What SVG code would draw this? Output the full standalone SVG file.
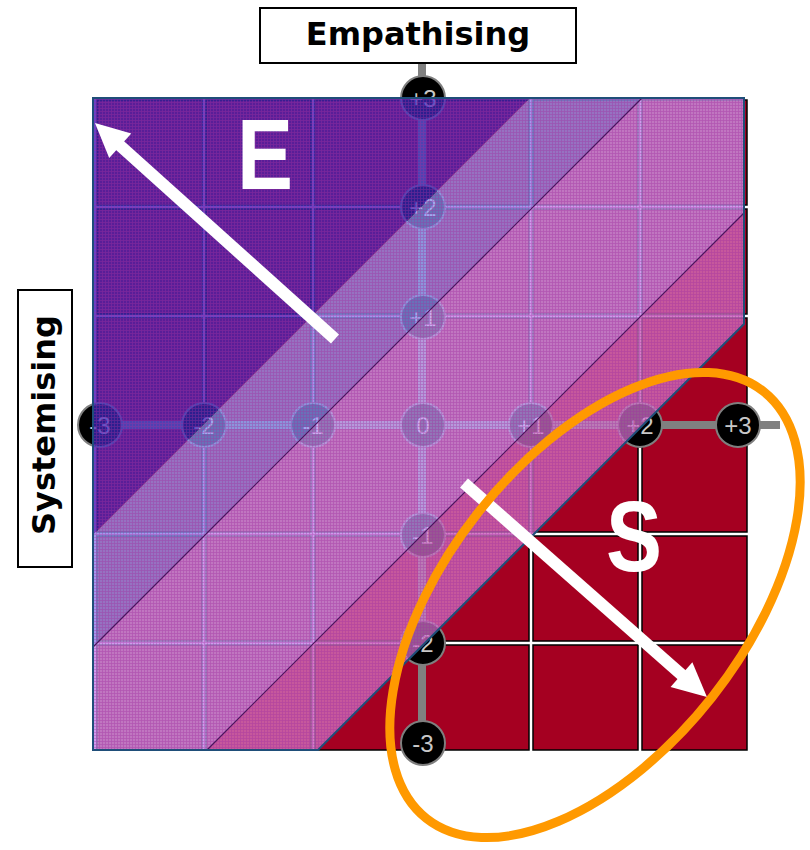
<svg xmlns="http://www.w3.org/2000/svg" width="810" height="850" viewBox="0 0 810 850">
<style>
.cell{fill:#a50021;stroke:#000;stroke-width:1.5}
.axis{stroke:#808080;stroke-width:8;fill:none}
.dot{fill:#000;stroke:#7f7f7f;stroke-width:2}
.dt{font-family:"Liberation Sans",Arial,sans-serif;font-size:24px;fill:#c8c8c8;text-anchor:middle}
.sep{stroke:#4a145f;stroke-width:1.2;fill:none}
.arrow{stroke:#fff;stroke-width:12;fill:none}
.big{font-family:"Liberation Sans",Arial,sans-serif;font-weight:bold;font-size:100px;fill:#fff}
.lbox{fill:#fff;stroke:#000;stroke-width:2}
.ltxt{font-family:"DejaVu Sans",Verdana,sans-serif;font-weight:bold;font-size:32px;fill:#000;text-anchor:middle}
</style>
<defs>
<pattern id="tex" width="3" height="3" patternUnits="userSpaceOnUse">
<path d="M0,0.5H3M0.5,0V3" stroke="#a0309f" stroke-width="0.8" opacity="0.45"/>
</pattern>
<marker id="head" markerUnits="userSpaceOnUse" viewBox="-2 -18 38 36" markerWidth="38" markerHeight="36" refX="0" refY="0" orient="auto">
<path d="M-1,-16.5 L33,0 L-1,16.5 Z" fill="#fff"/>
</marker>
</defs>
<rect width="810" height="850" fill="#fff"/>
<polygon points="93,98 744,98 744,324 318,750 93,750" fill="#e080c0"/>
<g id="cells">
<rect class="cell" x="97" y="100" width="105" height="105"/><rect class="cell" x="206" y="100" width="105" height="105"/><rect class="cell" x="315" y="100" width="105" height="105"/><rect class="cell" x="424" y="100" width="105" height="105"/><rect class="cell" x="533" y="100" width="105" height="105"/><rect class="cell" x="642" y="100" width="105" height="105"/>
<rect class="cell" x="97" y="209" width="105" height="105"/><rect class="cell" x="206" y="209" width="105" height="105"/><rect class="cell" x="315" y="209" width="105" height="105"/><rect class="cell" x="424" y="209" width="105" height="105"/><rect class="cell" x="533" y="209" width="105" height="105"/><rect class="cell" x="642" y="209" width="105" height="105"/>
<rect class="cell" x="97" y="318" width="105" height="105"/><rect class="cell" x="206" y="318" width="105" height="105"/><rect class="cell" x="315" y="318" width="105" height="105"/><rect class="cell" x="424" y="318" width="105" height="105"/><rect class="cell" x="533" y="318" width="105" height="105"/><rect class="cell" x="642" y="318" width="105" height="105"/>
<rect class="cell" x="97" y="427" width="105" height="105"/><rect class="cell" x="206" y="427" width="105" height="105"/><rect class="cell" x="315" y="427" width="105" height="105"/><rect class="cell" x="424" y="427" width="105" height="105"/><rect class="cell" x="533" y="427" width="105" height="105"/><rect class="cell" x="642" y="427" width="105" height="105"/>
<rect class="cell" x="97" y="536" width="105" height="105"/><rect class="cell" x="206" y="536" width="105" height="105"/><rect class="cell" x="315" y="536" width="105" height="105"/><rect class="cell" x="424" y="536" width="105" height="105"/><rect class="cell" x="533" y="536" width="105" height="105"/><rect class="cell" x="642" y="536" width="105" height="105"/>
<rect class="cell" x="97" y="645" width="105" height="105"/><rect class="cell" x="206" y="645" width="105" height="105"/><rect class="cell" x="315" y="645" width="105" height="105"/><rect class="cell" x="424" y="645" width="105" height="105"/><rect class="cell" x="533" y="645" width="105" height="105"/><rect class="cell" x="642" y="645" width="105" height="105"/>
</g>
<g id="axes">
<line class="axis" x1="100" y1="425" x2="780" y2="425"/>
<line class="axis" x1="422" y1="62" x2="422" y2="743"/>
</g>
<g id="ticks">
<circle class="dot" cx="100" cy="425" r="22"/><text class="dt" x="100" y="433.5">-3</text>
<circle class="dot" cx="204" cy="425" r="22"/><text class="dt" x="204" y="433.5">-2</text>
<circle class="dot" cx="313" cy="425" r="22"/><text class="dt" x="313" y="433.5">-1</text>
<circle class="dot" cx="423" cy="425" r="22"/><text class="dt" x="423" y="433.5">0</text>
<circle class="dot" cx="531" cy="425" r="22"/><text class="dt" x="531" y="433.5">+1</text>
<circle class="dot" cx="640" cy="425" r="22"/><text class="dt" x="640" y="433.5">+2</text>
<circle class="dot" cx="738" cy="425" r="22"/><text class="dt" x="738" y="433.5">+3</text>
<circle class="dot" cx="423" cy="98" r="22"/><text class="dt" x="423" y="106.5">+3</text>
<circle class="dot" cx="423" cy="207" r="22"/><text class="dt" x="423" y="215.5">+2</text>
<circle class="dot" cx="423" cy="317" r="22"/><text class="dt" x="423" y="325.5">+1</text>
<circle class="dot" cx="423" cy="535" r="22"/><text class="dt" x="423" y="543.5">-1</text>
<circle class="dot" cx="423" cy="643" r="22"/><text class="dt" x="423" y="651.5">-2</text>
<circle class="dot" cx="423" cy="743" r="22"/><text class="dt" x="423" y="751.5">-3</text>
</g>
<g id="overlay">
<g opacity="0.72">
<polygon points="93,98 530,98 93,535" fill="#3d2ac6"/>
<polygon points="530,98 642,98 93,647 93,535" fill="#919eff"/>
<polygon points="642,98 744,98 744,213 207,750 93,750 93,647" fill="#cba4fe"/>
<polygon points="744,213 744,324 318,750 207,750" fill="#d37acc"/>
</g>
<polygon points="93,98 744,98 744,324 318,750 93,750" fill="url(#tex)"/>
<line class="sep" x1="642" y1="98" x2="93" y2="647"/>
<line class="sep" x1="744" y1="213" x2="207" y2="750"/>
<polygon points="93,98 744,98 744,324 318,750 93,750" fill="none" stroke="#1f4e79" stroke-width="2"/>
</g>
<g id="arrows">
<line class="arrow" x1="335" y1="339" x2="119.5" y2="145.1" marker-end="url(#head)"/>
<line class="arrow" x1="464" y1="483" x2="682.2" y2="675.2" marker-end="url(#head)"/>
</g>
<g id="letters">
<text class="big" transform="translate(237,189) scale(0.84,1)" x="0" y="0">E</text>
<text class="big" transform="translate(634,571) scale(0.84,1)" x="0" y="0" text-anchor="middle" font-size="96">S</text>
</g>
<g id="ellipse">
<ellipse cx="595" cy="605" rx="272" ry="149" transform="rotate(-51.7 595 605)" fill="none" stroke="#ff9900" stroke-width="9"/>
</g>
<g id="label-empathising">
<rect class="lbox" x="260" y="8" width="316" height="55"/>
<text class="ltxt" x="418" y="45">Empathising</text>
</g>
<g id="label-systemising">
<rect class="lbox" x="18" y="290" width="54" height="277"/>
<text class="ltxt" transform="translate(55,425) rotate(-90)" x="0" y="0">Systemising</text>
</g>
</svg>
